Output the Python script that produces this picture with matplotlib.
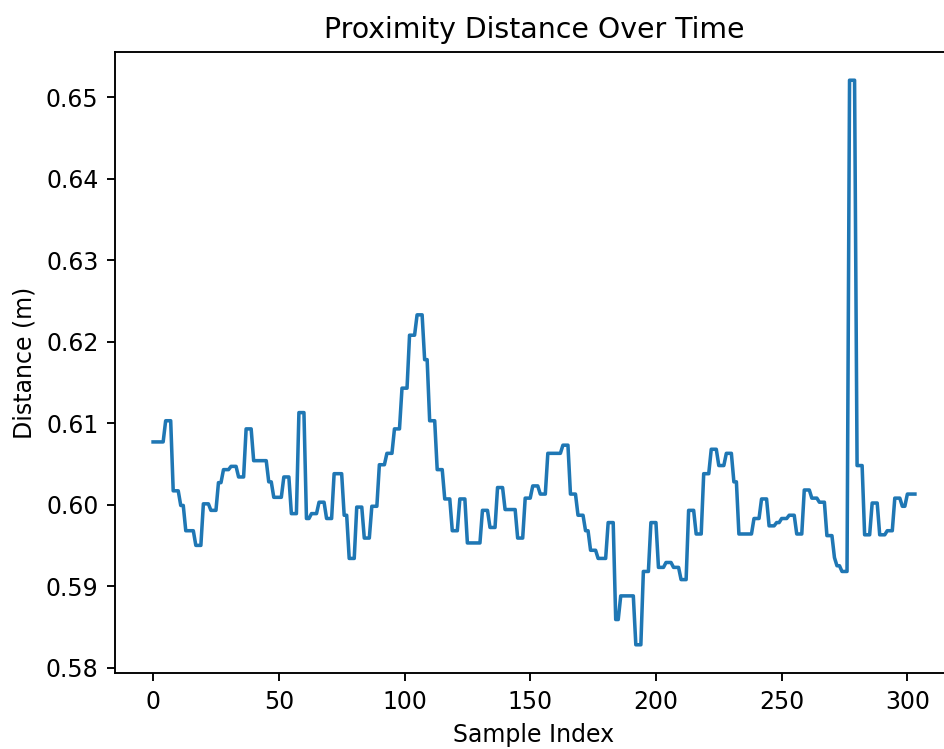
import numpy as np
import matplotlib
matplotlib.use('Agg')
import matplotlib.pyplot as plt

# Distance readings are held for a few samples at a time, so store them as
# (level, number of samples) pairs
levels = [
    0.6077, 0.6103, 0.6017, 0.5999, 0.5968, 0.5950, 0.6001, 0.5993, 0.6027, 0.6043,
    0.6047, 0.6034, 0.6093, 0.6054, 0.6028, 0.6009, 0.6034, 0.5989, 0.6113, 0.5983,
    0.5989, 0.6003, 0.5983, 0.6038, 0.5987, 0.5934, 0.5997, 0.5959, 0.5998, 0.6049,
    0.6063, 0.6093, 0.6143, 0.6208, 0.6233, 0.6178, 0.6103, 0.6043, 0.6007, 0.5968,
    0.6007, 0.5953, 0.5993, 0.5972, 0.6021, 0.5994, 0.5959, 0.6008, 0.6023, 0.6013,
    0.6063, 0.6073, 0.6013, 0.5987, 0.5968, 0.5944, 0.5934, 0.5978, 0.5859, 0.5888,
    0.5828, 0.5918, 0.5978, 0.5923, 0.5929, 0.5923, 0.5908, 0.5993, 0.5964, 0.6038,
    0.6068, 0.6048, 0.6063, 0.6028, 0.5964, 0.5983, 0.6007, 0.5974, 0.5978, 0.5983,
    0.5987, 0.5964, 0.6018, 0.6008, 0.6003, 0.5962, 0.5935, 0.5925, 0.5918, 0.6521,
    0.6048, 0.5963, 0.6002, 0.5963, 0.5968, 0.6008, 0.5998, 0.6013,
]
counts = [
    5, 3, 3, 2, 4, 3, 3, 3, 2, 3,
    3, 3, 3, 6, 2, 4, 3, 3, 3, 2,
    3, 3, 3, 4, 2, 3, 3, 3, 3, 3,
    3, 3, 3, 3, 3, 2, 3, 3, 3, 3,
    3, 6, 3, 3, 3, 5, 3, 3, 3, 3,
    6, 3, 3, 3, 2, 3, 4, 3, 2, 6,
    3, 3, 3, 3, 3, 3, 3, 3, 3, 3,
    3, 3, 3, 2, 6, 3, 3, 3, 2, 3,
    3, 3, 3, 3, 3, 3, 1, 2, 3, 3,
    3, 3, 3, 3, 3, 3, 2, 4,
]

distance = np.repeat(levels, counts)

# reference was rendered at ~170 dpi and cropped on the right
fig = plt.figure(figsize=(944 / 170, 749 / 170), dpi=170)
ax = fig.add_axes([115 / 944, 76 / 749, 838 / 944, 621 / 749])

ax.plot(distance)
ax.set_title('Proximity Distance Over Time')
ax.set_xlabel('Sample Index')
ax.set_ylabel('Distance (m)')

fig.savefig('out.png', dpi=170)
